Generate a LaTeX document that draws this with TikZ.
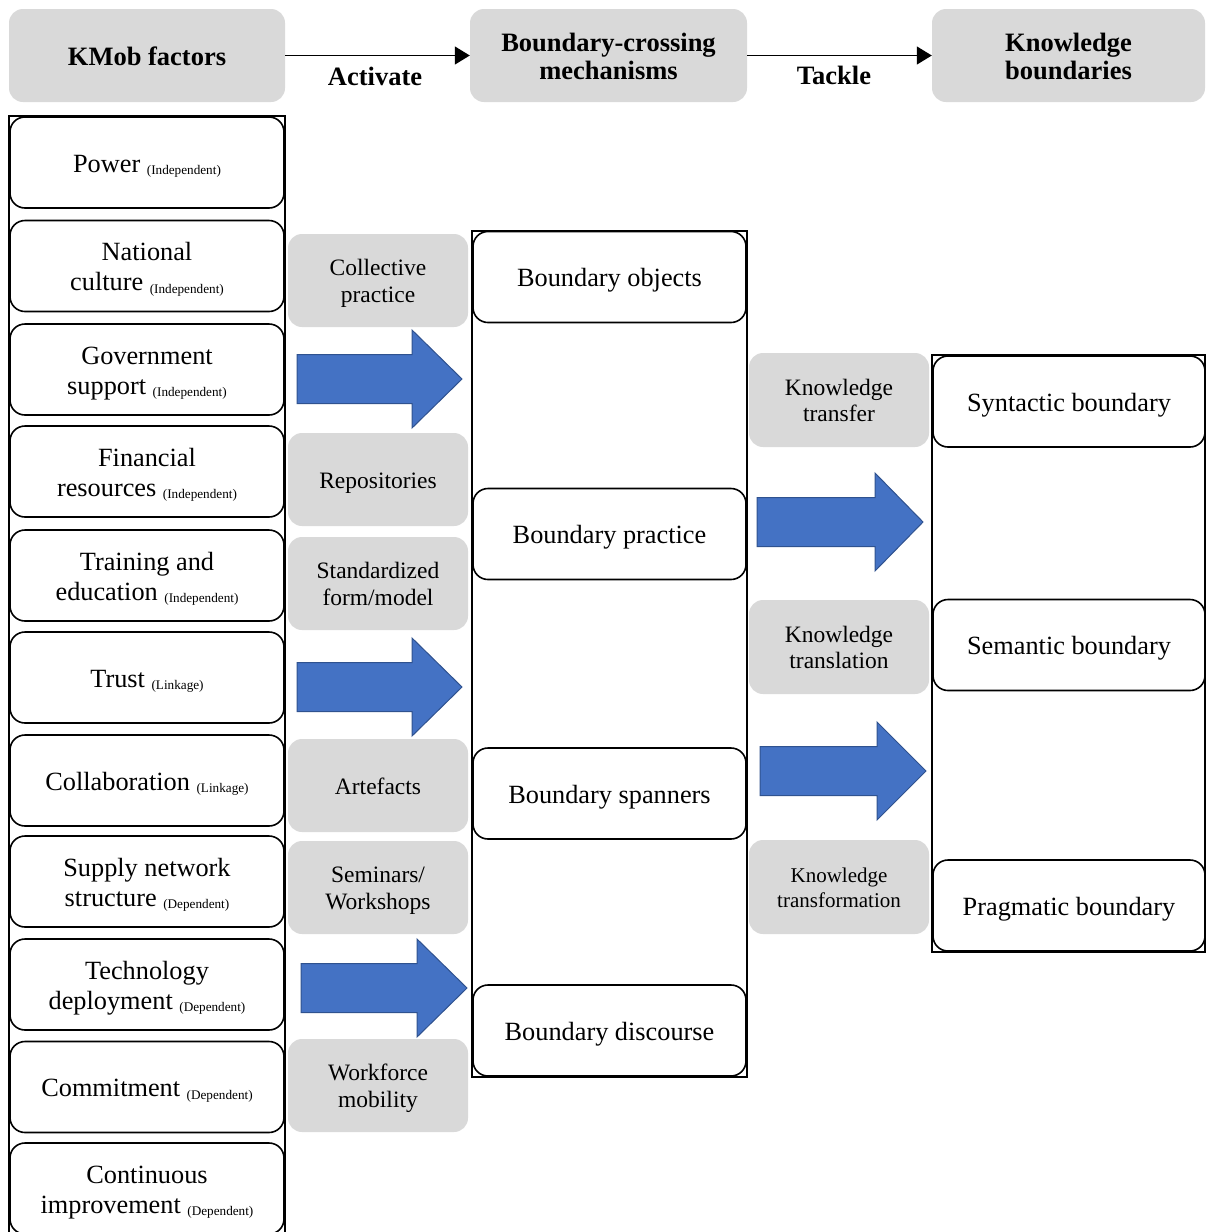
\documentclass[tikz,border=0pt]{standalone}
\usepackage{fontspec}
\setmainfont{Liberation Serif}
\usetikzlibrary{arrows.meta}

\definecolor{boxgray}{HTML}{D9D9D9}
\definecolor{arrowblue}{HTML}{4472C4}
\definecolor{arrowedge}{HTML}{2F528F}

\newcommand\bigtxt{\fontsize{26.3}{30}\selectfont}
\newcommand\hdrtxt{\fontsize{26.5}{28}\selectfont\bfseries}
\newcommand\midtxt{\fontsize{23.5}{26.5}\selectfont}
\newcommand\smalltxt{\fontsize{21}{25}\selectfont}
\newcommand\kind[1]{\raisebox{-2.5pt}{\fontsize{13.2}{14}\selectfont(#1)}}
% struts fixing the height of the first line and the depth of the last
\newcommand\st{\rule{0pt}{1em}}
\newcommand\sd{\rule[-0.27em]{0pt}{0.27em}}

% block arrow: start x, head base x, tip x, centre y
\newcommand\blockarrow[4]{%
  \filldraw[fill=arrowblue, draw=arrowedge, line width=1pt]
    (#1,#4-24.5) -- (#2,#4-24.5) -- (#2,#4-49) -- (#3,#4) -- (#2,#4+49)
    -- (#2,#4+24.5) -- (#1,#4+24.5) -- cycle;}

\begin{document}
\begin{tikzpicture}[x=1pt,y=-1pt,
  hdr/.style={fill=boxgray, rounded corners=14pt, minimum height=93pt,
    align=center, font=\hdrtxt, inner sep=0pt},
  frame/.style={draw, line width=1.6pt, inner sep=0pt},
  item/.style={draw, line width=1.6pt, rounded corners=15pt, minimum height=91pt,
    align=center, font=\bigtxt, inner sep=0pt},
  factor/.style={item, minimum width=274pt},
  mech/.style={item, minimum width=273pt},
  bound/.style={item, minimum width=272pt},
  tagbox/.style={fill=boxgray, rounded corners=14pt, minimum width=180pt,
    minimum height=93pt, align=center, font=\midtxt, inner sep=0pt},
  flow/.style={line width=1.3pt, -{Triangle[length=15pt, width=18pt]}},
  flowlabel/.style={font=\hdrtxt, inner sep=0pt}
]
\useasboundingbox (0,0) rectangle (1206,1232);

% headers
\node[hdr, minimum width=276pt] (hKM) at (147,55.5) {\st KMob factors\sd};
\node[hdr, minimum width=277pt] (hBC) at (608.5,55.5) {\st Boundary-crossing\\mechanisms\sd};
\node[hdr, minimum width=273pt] (hKB) at (1068.5,55.5) {\st Knowledge\\boundaries\sd};

\draw[flow] (hKM.east) -- (hBC.west);
\draw[flow] (hBC.east) -- (hKB.west);
\node[flowlabel] (lAct) at (375,76) {Activate};
\node[flowlabel] (lTac) at (834,75) {Tackle};

% column frames
\node[frame, minimum width=276pt, minimum height=1134pt] (fL) at (147,683) {};
\node[frame, minimum width=275pt, minimum height=846pt] (fM) at (609.5,654) {};
\node[frame, minimum width=273pt, minimum height=597pt] (fR) at (1068.5,653.5) {};

% KMob factors
\node[factor] (f1) at (147,162.5) {\st Power \kind{Independent}\sd};
\node[factor] (f2) at (147,266) {\st National\\culture \kind{Independent}\sd};
\node[factor] (f3) at (147,369.5) {\st Government\\support \kind{Independent}\sd};
\node[factor] (f4) at (147,471.5) {\st Financial\\resources \kind{Independent}\sd};
\node[factor] (f5) at (147,575.5) {\st Training and\\education \kind{Independent}\sd};
\node[factor] (f6) at (147,677.5) {\st Trust \kind{Linkage}\sd};
\node[factor] (f7) at (147,780.5) {\st Collaboration \kind{Linkage}\sd};
\node[factor] (f8) at (147,881.5) {\st Supply network\\structure \kind{Dependent}\sd};
\node[factor] (f9) at (147,984.5) {\st Technology\\deployment \kind{Dependent}\sd};
\node[factor] (f10) at (147,1087) {\st Commitment \kind{Dependent}\sd};
\node[factor] (f11) at (147,1188.5) {\st Continuous\\improvement \kind{Dependent}\sd};

% activation channels
\node[tagbox] (t1) at (378,280.5) {\st Collective\\practice\sd};
\node[tagbox] (t2) at (378,479.5) {\st Repositories\sd};
\node[tagbox] (t3) at (378,583.5) {\st Standardized\\form/model\sd};
\node[tagbox] (t4) at (378,785.5) {\st Artefacts\sd};
\node[tagbox] (t5) at (378,887.5) {\st Seminars/\\Workshops\sd};
\node[tagbox] (t6) at (378,1085.5) {\st Workforce\\mobility\sd};

% boundary-crossing mechanisms
\node[mech] (m1) at (609.5,277) {\st Boundary objects\sd};
\node[mech] (m2) at (609.5,534) {\st Boundary practice\sd};
\node[mech] (m3) at (609.5,793.5) {\st Boundary spanners\sd};
\node[mech] (m4) at (609.5,1030.5) {\st Boundary discourse\sd};

% knowledge processes
\node[tagbox, minimum height=94pt] (k1) at (839,400) {\st Knowledge\\transfer\sd};
\node[tagbox, minimum height=94pt] (k2) at (839,647) {\st Knowledge\\translation\sd};
\node[tagbox, minimum height=94pt, font=\smalltxt] (k3) at (839,887) {\st Knowledge\\transformation\sd};

% knowledge boundaries
\node[bound] (b1) at (1069,401.5) {\st Syntactic boundary\sd};
\node[bound] (b2) at (1069,645) {\st Semantic boundary\sd};
\node[bound] (b3) at (1069,905.5) {\st Pragmatic boundary\sd};

% block arrows
\blockarrow{297}{412}{462}{379}
\blockarrow{297}{412}{462}{687}
\blockarrow{301}{417}{467}{988}
\blockarrow{757}{875}{923}{522}
\blockarrow{760}{877}{926}{771}
\end{tikzpicture}
\end{document}
